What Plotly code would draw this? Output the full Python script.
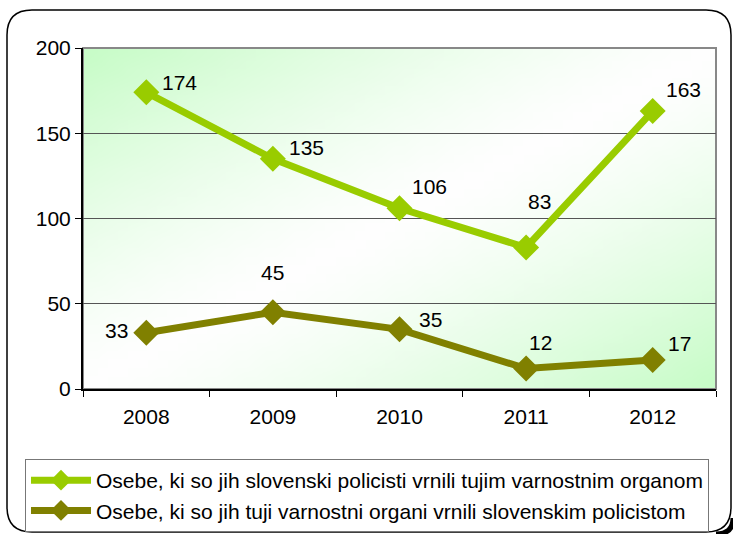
import base64
import struct
import zlib

import plotly.graph_objects as go

years = ["2008", "2009", "2010", "2011", "2012"]
returned_by_si = [174, 135, 106, 83, 163]
returned_to_si = [33, 45, 35, 12, 17]
names = [
    "Osebe, ki so jih slovenski policisti vrnili tujim varnostnim organom",
    "Osebe, ki so jih tuji varnostni organi vrnili slovenskim policistom",
]
colors = ["#99CC00", "#808000"]

# label offsets (px) from each marker
shift_a = [(33, 10), (34, 11), (30, 22), (13, 46), (31, 22)]
shift_b = [(-30, 2), (0, 40), (31, 10), (14, 26), (27, 17)]

W, H = 733, 534
L, R, T, B = 83, 716, 48, 389  # plot area in pixels
FS = 21


def px(x, y):
    # pixel position -> paper coords
    return (x - L) / (R - L), (B - y) / (B - T)


def gradient_png(w, h):
    # diagonal green -> white -> green background
    g = (200, 252, 200)
    rows = b""
    for j in range(h):
        row = b"\x00"
        for i in range(w):
            t = (i / (w - 1) + j / (h - 1)) / 2
            k = abs(t - 0.5) * 2
            k = k ** 1.3
            c = [int(255 + (g[n] - 255) * k) for n in range(3)]
            row += bytes(c)
        rows += row

    def chunk(tag, data):
        c = struct.pack(">I", len(data)) + tag + data
        return c + struct.pack(">I", zlib.crc32(tag + data) & 0xffffffff)

    png = b"\x89PNG\r\n\x1a\n"
    png += chunk(b"IHDR", struct.pack(">IIBBBBB", w, h, 8, 2, 0, 0, 0))
    png += chunk(b"IDAT", zlib.compress(rows))
    png += chunk(b"IEND", b"")
    return "data:image/png;base64," + base64.b64encode(png).decode()


fig = go.Figure()
annotations = []
for vals, name, col, shifts, grp in [
    (returned_by_si, names[0], colors[0], shift_a, "a"),
    (returned_to_si, names[1], colors[1], shift_b, "b"),
]:
    fig.add_trace(go.Scatter(
        x=years, y=vals, name=name, mode="lines+markers",
        line=dict(color=col, width=7),
        marker=dict(symbol="diamond", size=20, color=col),
        legendgroup=grp, cliponaxis=False,
    ))
    # category axis -> annotations use the category index
    for i, (v, (dx, dy)) in enumerate(zip(vals, shifts)):
        annotations.append(dict(
            x=i, y=v, text=str(v), showarrow=False,
            xshift=dx, yshift=dy, font=dict(size=FS, color="black"),
        ))

# rounded outer frame
x0, y0 = px(7, 10)
x1, y1 = px(731, 532)
rx = 25 / (R - L)
ry = 25 / (B - T)
frame = (f"M {x0 + rx},{y0} L {x1 - rx},{y0} Q {x1},{y0} {x1},{y0 - ry} "
         f"L {x1},{y1 + ry} Q {x1},{y1} {x1 - rx},{y1} "
         f"L {x0 + rx},{y1} Q {x0},{y1} {x0},{y1 + ry} "
         f"L {x0},{y0 - ry} Q {x0},{y0} {x0 + rx},{y0} Z")
# small dark shadow at bottom-right corner
sx0, sy0 = px(733, 518)
sx1, sy1 = px(716, 534)
shadow = f"M {sx0},{sy0} Q {sx0},{sy1} {sx1},{sy1}"

fig.update_layout(
    width=W, height=H,
    margin=dict(l=L, r=W - R, t=T, b=H - B, autoexpand=False),
    paper_bgcolor="white",
    plot_bgcolor="rgba(0,0,0,0)",
    font=dict(family="Liberation Sans, Arial", size=FS, color="black"),
    showlegend=True,
    annotations=annotations,
    legend=dict(
        x=px(25, 0)[0], y=px(0, 459)[1], xanchor="left", yanchor="top",
        bordercolor="#777777", borderwidth=1, bgcolor="white",
        font=dict(size=FS), itemwidth=60, tracegroupgap=5,
        traceorder="normal",
    ),
    images=[dict(
        source=gradient_png(64, 40), xref="paper", yref="paper",
        x=0, y=1, sizex=1, sizey=1, xanchor="left", yanchor="top",
        sizing="stretch", layer="below",
    )],
    shapes=[
        dict(type="path", path=frame, xref="paper", yref="paper",
             line=dict(color="black", width=1.5)),
        dict(type="path", path=shadow, xref="paper", yref="paper",
             line=dict(color="black", width=5)),
        dict(type="rect", x0=0, y0=0, x1=1, y1=1, xref="paper", yref="paper",
             line=dict(color="#888888", width=2), layer="below"),
    ],
)
fig.update_xaxes(
    type="category", range=[-0.5, 4.5], tickson="boundaries",
    ticks="outside", ticklen=6, tickcolor="black",
    showline=True, linecolor="black", linewidth=2,
    showgrid=False, tickfont=dict(size=FS), ticklabelstandoff=8,
)
fig.update_yaxes(
    range=[0, 200], dtick=50, ticks="outside", ticklen=6, tickcolor="black",
    showline=True, linecolor="black", linewidth=2,
    showgrid=True, gridcolor="#555555", gridwidth=1, zeroline=False,
    tickfont=dict(size=FS),
)

fig.write_html("out.html", config={"displayModeBar": False},
               post_script="document.body.style.margin='0';")
